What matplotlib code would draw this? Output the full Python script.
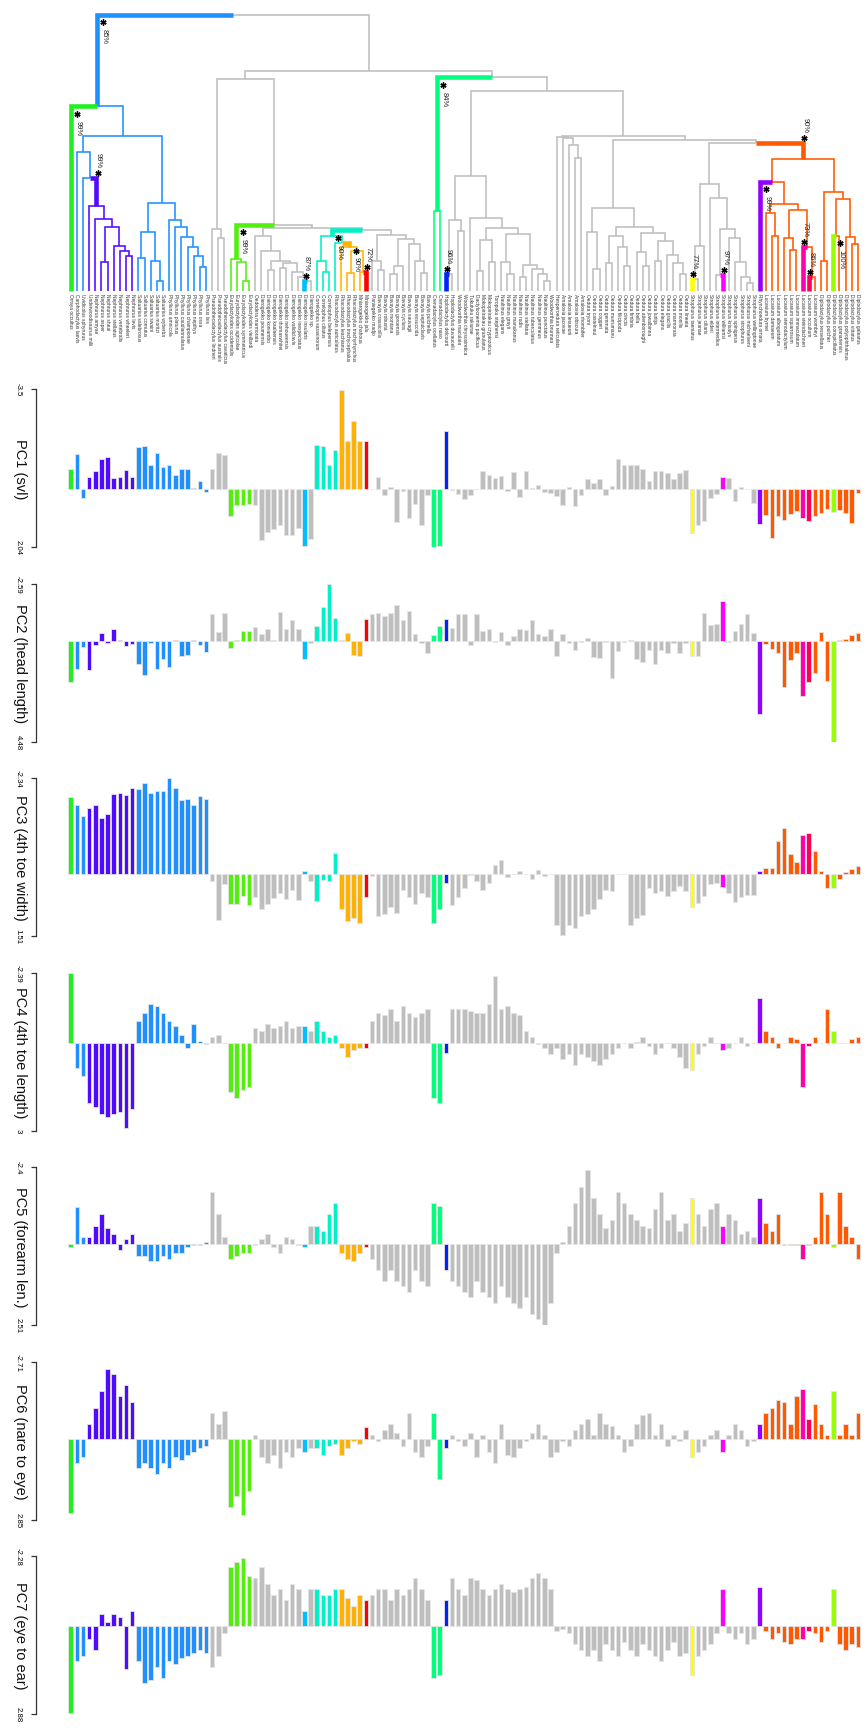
import matplotlib
matplotlib.use("Agg")
import matplotlib.pyplot as plt

plt.rcParams['font.family'] = ['Liberation Sans', 'DejaVu Sans']

# ---------------------------------------------------------------- taxa
species = [
    "Orraya occultus", "Carphodactylus laevis", "Uvidicolus sphyrurus", "Underwoodisaurus milii",
    "Nephrurus amyae", "Nephrurus asper", "Nephrurus sheai", "Nephrurus stellatus",
    "Nephrurus vertebralis", "Nephrurus wheeleri", "Nephrurus levis",
    "Saltuarius salebrosus", "Saltuarius cornutus", "Saltuarius swaini", "Saltuarius moritzi",
    "Saltuarius wyberba", "Phyllurus amnicola", "Phyllurus platurus", "Phyllurus caudiannulatus",
    "Phyllurus championae", "Phyllurus nepthys", "Phyllurus ossa", "Phyllurus isis",
    "Pseudothecadactylus lindneri", "Pseudothecadactylus australis", "Pseudothecadactylus cavaticus",
    "Eurydactylodes occidentalis", "Eurydactylodes agricolae", "Eurydactylodes symmetricus",
    "Eurydactylodes vieillardi", "Oedodera marmorata", "Dierogekko poumensis", "Dierogekko koniambo",
    "Dierogekko kaalaensis", "Dierogekko thomaswhitei", "Dierogekko nehoueensis",
    "Dierogekko validiclavis", "Dierogekko inexpectatus", "Dierogekko insularis", "Dierogekko sp.",
    "Correlophus sarasinorum", "Correlophus ciliatus", "Correlophus belepensis",
    "Rhacodactylus auriculatus", "Rhacodactylus leachianus", "Rhacodactylus trachycephalus",
    "Rhacodactylus trachyrhynchus", "Mniarogekko chahoua", "Mniarogekko jalu", "Paniegekko madjo",
    "Bavayia crassicollis", "Bavayia robusta", "Bavayia montana", "Bavayia goroensis",
    "Bavayia cyclura", "Bavayia sauvagii", "Bavayia exsuccida", "Bavayia septuiclavis",
    "Bavayia pulchella", "Crenadactylus ocellatus", "Crenadactylus naso", "Hoplodactylus delcourti",
    "Hoplodactylus duvaucelii", "Woodworthia maculata", "Woodworthia chrysosiretica",
    "Tukutuku rakiurae", "Dactylocnemis pacificus", "Mokopirirakau granulatus",
    "Mokopirirakau cryptozoicus", "Toropuku stephensi", "Naultinus elegans", "Naultinus grayii",
    "Naultinus manukanus", "Naultinus rudis", "Naultinus stellatus", "Naultinus tuberculatus",
    "Naultinus gemmeus", "Naultinus punctatus", "Woodworthia brunnea", "Hesperoedura reticulata",
    "Amalosia jacovae", "Amalosia lesueurii", "Amalosia obscura", "Amalosia rhombifer",
    "Oedura tryoni", "Oedura castelnaui", "Oedura coggeri", "Oedura gemmata", "Oedura murrumanu",
    "Oedura filicipoda", "Oedura cincta", "Oedura fimbria", "Oedura bella", "Oedura attenboroughi",
    "Oedura jowalbinna", "Oedura luritja", "Oedura elegans", "Oedura gracilis", "Oedura marmorata",
    "Oedura monilis", "Oedura lineata", "Strophurus taeniatus", "Strophurus jeanae",
    "Strophurus ciliaris", "Strophurus elderi", "Strophurus intermedius", "Strophurus williamsi",
    "Strophurus krisalys", "Strophurus spinigerus", "Strophurus strophurus", "Strophurus michaelseni",
    "Strophurus wellingtonae", "Rhynchoedura ornata", "Lucasium byrnei", "Lucasium damaeum",
    "Lucasium alboguttatum", "Lucasium stenodactylum", "Lucasium squarrosum", "Lucasium immaculatum",
    "Lucasium steindachneri", "Lucasium occultum", "Lucasium wombeyi", "Diplodactylus tessellatus",
    "Diplodactylus pulcher", "Diplodactylus conspicillatus", "Diplodactylus granariensis",
    "Diplodactylus polyophthalmus", "Diplodactylus vittatus", "Diplodactylus galeatus",
]

# ---------------------------------------------------------------- tree
# internal node = [relative age, left, right]; integers are tips (index into species)
carpho = [0.668, 0,
          [0.562,
           [0.504, 1,
            [0.409, 2,
             [0.309, 3,
              [0.261, 4,
               [0.231, [0.106, 5, 6],
                [0.164, 7, [0.146, 8, [0.126, 9, 10]]]]]]]],
           [0.318,
            [0.215, [0.118, 11, 12], [0.107, 13, [0.036, 14, 15]]],
            [0.258, 16, [0.233, 17, [0.197, 18, [0.158, 19, [0.128, 20, [0.086, 21, 22]]]]]]]]]

dierogekko = [0.200, 30,
              [0.146, 31,
               [0.108, [0.076, 32, 33],
                [0.100, [0.085, 34, 35], [0.070, 36, [0.050, 37, [0.036, 38, 39]]]]]]]
giants = [0.198, [0.110, 40, [0.068, 41, 42]],
          [0.174, 43, [0.159, 44, [0.146, [0.065, 45, 46], [0.068, 47, 48]]]]]
bavayia = [0.204, [0.110, 49, [0.075, 50, 51]],
           [0.190, [0.090, [0.060, 52, 53], 54], [0.170, 55, [0.110, 56, [0.065, 57, 58]]]]]
new_caledonia = [0.228, dierogekko, [0.219, giants, bavayia]]

left_diplo = [0.767, [0.224, 23, [0.191, 24, 25]],
              [0.240, [0.116, 26, [0.104, 27, [0.037, 28, 29]]], new_caledonia]]

new_zealand = [0.417, [0.257, [0.062, 61, 62], [0.216, 63, 64]],
               [0.263, 65,
                [0.227, [0.186, [0.073, 66, 67], [0.104, 68, 69]],
                 [0.206, [0.104, 70, [0.060, 71, 72]],
                  [0.095, [0.050, 73, 74], [0.080, 75, [0.060, 76, [0.035, 77, 78]]]]]]]]
amalosia = [0.559, 79, [0.552, 80, [0.528, 81, [0.480, 82, 83]]]]
oedura = [0.299, [0.215, 84, [0.080, 85, 86]],
          [0.230, [0.200, [0.100, 87, 88], [0.160, 89, [0.090, 90, 91]]],
           [0.210, [0.140, 92, [0.090, 93, 94]],
            [0.180, [0.110, 95, 96], [0.130, 97, [0.100, 98, [0.060, 99, 100]]]]]]]
strophurus = [0.387, [0.164, [0.043, 101, 102], 103],
              [0.335, 104, [0.224, [0.058, 105, 106],
                            [0.191, 107, [0.104, 108, [0.050, 109, [0.030, 110, 111]]]]]]]
diplodactylini = [0.478,
                  [0.396, 112,
                   [0.315, [0.281, 113, [0.198, 114, 115]],
                    [0.294, [0.192, 116, [0.150, 117, 118]], [0.159, 119, [0.051, 120, 121]]]]],
                  [0.359, [0.110, 122, 123],
                   [0.334, [0.200, 124, 125], [0.195, 126, [0.170, 127, 128]]]]]
right_diplo = [0.773, [0.291, 59, 60],
               [0.725, new_zealand,
                [0.562, amalosia, [0.548, oedura, [0.537, strophurus, diplodactylini]]]]]

tree = [1.0, carpho, [0.797, left_diplo, right_diplo]]

# painted regimes: (first tip, last tip) -> (colour, support)
regimes = {
    (0, 22): ("#1E90FF", "85%"),
    (0, 0): ("#22EE22", "99%"),
    (3, 10): ("#4F0AFF", "99%"),
    (26, 29): ("#55EE11", "99%"),
    (38, 38): ("#00BFFF", "87%"),
    (40, 48): ("#00F0C8", "90%"),
    (44, 48): ("#FFB300", "90%"),
    (48, 48): ("#FF0000", "72%"),
    (59, 60): ("#00FF7F", "84%"),
    (61, 61): ("#0022FF", "96%"),
    (101, 101): ("#FFFF00", "77%"),
    (106, 106): ("#FF00FF", "97%"),
    (112, 128): ("#FF5A00", "90%"),
    (112, 112): ("#9400FF", "99%"),
    (119, 119): ("#FF00AA", "73%"),
    (120, 120): ("#FF0055", "86%"),
    (124, 124): ("#99FF00", "100%"),
}
support_above = {(3, 10), (38, 38), (48, 48), (61, 61), (101, 101), (106, 106),
                 (119, 119), (120, 120), (112, 128)}
BASE = "#BEBEBE"

# ---------------------------------------------------------------- PC scores
pc_titles = ["PC1 (svl)", "PC2 (head length)", "PC3 (4th toe width)", "PC4 (4th toe length)",
             "PC5 (forearm len.)", "PC6 (nare to eye)", "PC7 (eye to ear)"]
pc_low = [-3.5, -2.59, -2.34, -2.39, -2.4, -2.71, -2.28]
pc_high = [2.04, 4.48, 1.51, 3, 2.51, 2.85, 2.88]

pc1 = [-0.70, -1.23, 0.33, -0.43, -0.62, -1.03, -1.11, -0.39, -0.43, -0.67, -0.41,
       -1.46, -1.49, -0.84, -1.25, -0.78, -0.84, -0.49, -0.68, -0.68, -0.04, -0.29, 0.12,
       -0.68, -1.26, -1.17, 0.97, 0.56, 0.56, 0.54,
       0.56, 1.81, 1.52, 1.42, 1.28, 1.61, 1.63, 1.38, 2.00, 1.75,
       -1.55, -1.49, -0.85, -1.37, -3.48, -1.67, -2.39, -1.69, -1.67,
       0.02, -0.41, 0.21, -0.08, 1.17, 0.06, 1.01, 0.52, 1.28, 0.20,
       2.04, 2.00, -2.04,
       0.03, 0.17, 0.35, 0.21, 0.02, -0.64, -0.49, -0.37, -0.44, 0.08, -0.58, 0.29, -0.61,
       -0.02, -0.12, 0.12, 0.14, 0.26, 0.58, -0.06, 0.61, 0.21, -0.35, -0.21, -0.35, 0.23,
       -0.09, -1.03, -0.82, -0.82, -0.82, -0.70, -0.29, -0.62, -0.62, -0.55, -0.35, -0.56, -0.66,
       1.54, 1.28, 1.14, 0.33, 0.17, -0.41, -0.37, 0.44, -0.08, 0.02, 0.50,
       1.22, 0.91, 1.73, 0.96, 1.11, 0.89, 0.79, 1.03, 1.12, 0.96, 0.85, 0.72, 0.82, 0.76,
       0.84, 1.19, 0.15]
pc2 = [1.80, 1.25, 0.25, 1.28, 0.16, -0.36, 0.06, -0.54, -0.06, 0.21, 0.10,
       1.00, 1.50, 0.09, 1.25, 0.80, 1.15, -0.06, 0.65, 0.62, -0.06, 0.16, 0.46,
       -1.21, -0.42, -1.28, 0.31, -0.04, -0.46, -0.46,
       -0.64, -0.31, -0.54, -0.04, -1.32, -0.54, -0.94, -0.54, 0.80, 0.06,
       -0.71, -1.55, -2.57, -1.03, -0.06, -0.36, 0.62, 0.65, -0.98,
       -1.21, -1.25, -1.13, -1.28, -1.65, -0.95, -1.38, -0.31, 0.09, 0.51,
       -0.27, -0.68, -1.01,
       -0.58, -1.21, -1.21, 0.18, -1.21, -0.46, -0.57, 0.02, -0.42, 0.16, -0.24, -0.57, -0.51,
       -0.95, -0.31, -0.24, -0.54, 0.65, -0.31, 0.09, 0.39, 0.02, -0.16, 0.70, 0.76, 0.02,
       1.65, 0.43, 0.02, -0.06, 0.80, 0.91, 0.39, 1.03, 0.39, 0.51, 0.09, 0.54, 0.06,
       0.65, 0.65, -1.28, -0.73, -0.76, -1.80, 0.02, -0.46, -0.80, -1.21, -0.39,
       3.23, 0.13, 0.33, 0.54, 2.02, 0.85, 0.51, 2.44, 1.80, 1.43, -0.43, 1.77, 4.48,
       -0.06, -0.09, -0.27, -0.39]
pc3 = [-1.88, -1.67, -1.41, -1.61, -1.68, -1.37, -1.46, -1.94, -1.97, -1.92, -2.10,
       -2.06, -2.21, -1.98, -2.03, -2.02, -2.34, -2.10, -1.81, -1.84, -1.68, -1.91, -1.84,
       0.16, 1.12, 0.25, 0.74, 0.74, 0.54, 0.76,
       0.55, 0.85, 0.72, 0.58, 0.46, 0.62, 0.38, 0.64, -0.07, 0.16,
       0.66, 0.14, 0.17, -0.52, 0.86, 1.14, 1.08, 1.19, 0.56,
       0.06, 1.02, 0.97, 0.80, 0.96, 0.38, 0.56, 0.74, 0.46, 0.56,
       1.20, 0.84, 0.21,
       0.76, 0.55, 0.33, 0.02, 0.17, 0.39, 0.21, -0.23, -0.35, 0.07, -0.01, -0.07, 0.01, 0.12,
       -0.09, 0.05, 0.01, 1.24, 1.49, 1.23, 1.31, 1.02, 0.97, 0.86, 0.62, 0.38, 0.42, 0.01,
       0.01, 1.23, 1.06, 1.00, 0.35, 0.46, 0.42, 0.54, 0.42, 0.28, 0.42,
       0.80, 0.70, 0.54, 0.25, 0.23, 0.31, 0.46, 0.68, 0.55, 0.51, 0.51,
       -0.07, -0.14, -0.14, -0.80, -1.12, -0.49, -0.29, -0.96, -1.00, -0.56, -0.07, 0.35,
       0.33, 0.11, -0.05, -0.13, -0.19]
pc4 = [-2.39, 0.87, 1.13, 2.07, 2.19, 2.45, 2.53, 2.45, 2.38, 2.90, 2.26,
       -0.75, -1.02, -1.32, -1.24, -1.02, -0.75, -0.57, -0.26, 0.19, -0.64, -0.05, 0.05,
       -0.19, -0.26, 0.03, 1.70, 1.89, 1.62, 1.51,
       -0.49, -0.38, -0.64, -0.49, -0.57, -0.75, -0.49, -0.57, -0.57, -0.38,
       -0.75, -0.38, -0.19, -0.26, 0.19, 0.49, 0.26, 0.19, 0.19,
       -0.75, -1.02, -0.94, -1.13, -0.75, -1.24, -1.02, -0.87, -1.02, -1.13,
       1.89, 2.07, 0.35,
       -1.13, -1.13, -1.13, -1.09, -1.02, -1.02, -1.32, -2.26, -1.13, -1.24, -1.02, -0.94,
       -0.38, -0.19, 0.05, 0.19, 0.38,
       0.19, 0.57, 0.38, 0.75, 0.38, 0.49, 0.64, 0.75, 0.57, 0.38, 0.19, 0.03, 0.19, -0.03,
       -0.19, 0.11, 0.38, 0.19, 0.03, 0.19, 0.49, 0.87,
       0.94, 0.38, 0.11, -0.19, 0.03, 0.26, 0.19, 0.02, -0.19, 0.11, 0.03,
       -1.51, -0.38, -0.19, 0.19, 0.02, -0.19, -0.11, 1.51, 0.11, -0.19, 0.02, -1.13, -0.38,
       0.02, 0.02, -0.11, -0.19]
pc5 = [0.10, -1.17, -0.24, -0.24, -0.58, -0.93, -0.51, -0.31, 0.17, -0.17, -0.31,
       0.38, 0.38, 0.51, 0.51, 0.38, 0.45, 0.27, 0.27, 0.10, 0.03, 0.03, -0.07,
       -1.61, -0.93, -0.24, 0.45, 0.38, 0.27, 0.27,
       0.03, -0.17, -0.31, 0.10, 0.27, -0.24, -0.17, 0.03, 0.10, -0.58,
       -0.58, -0.41, -0.93, -1.27, 0.27, 0.45, 0.51, 0.27, 0.10,
       0.45, 0.79, 1.13, 0.79, 1.13, 1.30, 1.47, 0.79, 1.13, 1.30,
       -1.27, -1.20, 0.79,
       1.13, 1.30, 1.47, 1.65, 1.13, 1.47, 1.65, 1.82, 1.30, 1.65, 1.82, 1.99, 1.65, 2.16,
       2.33, 2.50, 1.82,
       0.27, -0.07, -0.58, -1.27, -1.78, -2.30, -1.44, -0.93, -0.51, -0.75, -1.61, -1.27,
       -0.93, -0.75, -0.58, -0.51, -1.10, -1.61, -0.75, -0.93, -0.41, -0.65,
       -1.44, -0.93, -0.58, -1.10, -1.27, -0.58, -0.93, -0.75, -0.31, -0.41, -0.24,
       -1.44, -0.65, -0.41, -0.93, 0.03, 0.03, 0.03, 0.45, 0.03, -0.24, -1.61, -0.93, 0.10,
       -1.61, -0.58, -0.24, 0.45]
pc6 = [2.61, 0.86, 0.66, -0.51, -1.09, -1.67, -2.45, -2.26, -1.48, -1.87, -1.28,
       1.05, 0.86, 1.05, 1.24, 0.86, 1.05, 0.66, 0.74, 0.58, 0.47, 0.35, 0.27,
       -0.89, -0.51, -0.97, 2.41, 2.02, 2.68, 1.83,
       -0.12, 0.66, 0.86, 0.58, 1.05, 0.47, 0.66, 0.35, 0.47, 0.35,
       0.35, 0.58, 0.27, 0.19, 0.58, 0.35, 0.08, 0.19, -0.39,
       -0.12, 0.08, -0.31, -0.51, -0.19, 0.27, -0.89, 0.47, 0.66, 0.27,
       -0.89, 1.44, 0.35,
       -0.12, 0.08, 0.27, -0.19, 0.66, -0.12, 0.47, 0.86, -0.51, 0.58, 0.66, 0.35, 0.08,
       -0.19, -0.51, -0.12, 0.66, 0.47, 0.08, 0.27, -0.31, -0.51, -0.70, -0.12, -0.89, -0.51,
       -0.43, -0.12, 0.47, 0.27, -0.51, -0.82, -0.89, -0.12, -0.51, 0.27, -0.12, 0.08, -0.31,
       0.66, 0.47, 0.27, -0.12, -0.31, 0.47, -0.12, -0.51, -0.31, 0.27, 0.08,
       -0.51, -0.89, -1.09, -1.36, -1.28, -0.51, -1.48, -1.75, -0.70, -1.20, -0.51, -0.12,
       -1.67, -0.12, -0.51, -0.12, -0.89]
pc7 = [2.85, 1.16, 0.97, 0.43, 0.79, -0.40, -0.11, -0.40, -0.29, 1.41, -0.47,
       1.16, 1.88, 1.77, 1.34, 1.70, 1.16, 1.26, 1.05, 0.97, 0.90, 0.79, 0.90,
       1.34, 0.97, 0.25, -1.91, -2.09, -2.20, -1.62,
       -1.55, -1.91, -1.37, -1.01, -1.19, -0.83, -1.37, -1.19, -0.47, -1.19,
       -1.19, -1.01, -1.01, -1.19, -1.19, -0.90, -0.65, -1.01, -0.83,
       -1.01, -1.19, -1.19, -0.83, -1.19, -1.01, -1.19, -1.55, -1.19, -0.83,
       1.70, 1.62, -0.83,
       -1.55, -1.19, -1.01, -1.55, -1.48, -1.19, -1.01, -1.19, -1.37, -1.19, -1.12, -1.19,
       -1.26, -1.55, -1.73, -1.55, -1.19,
       0.18, 0.11, 0.25, 0.61, 0.79, 0.97, 0.79, 1.16, 0.61, 0.79, 0.97, 0.54, 0.79, 0.97,
       0.61, 0.79, 0.97, 1.16, 0.79, 0.54, 0.97, 0.90,
       1.62, 0.97, 0.79, 0.61, 0.25, -1.19, 0.25, 0.43, 0.25, 0.61, 0.43,
       -1.26, 0.18, 0.43, 0.25, 0.54, 0.61, 0.43, 0.43, 0.18, 0.25, 0.54, 0.18, -1.19, 0.61,
       0.79, 0.61, 0.68]
pc_scores = [pc1, pc2, pc3, pc4, pc5, pc6, pc7]

# ---------------------------------------------------------------- layout helpers
W, H = 866, 1733
fig = plt.figure(figsize=(W / 100, H / 100), dpi=100)
TIP0_PX, TIP_STEP_PX = 70.7, 6.15


def add_axes_px(x0, y0, x1, y1):
    return fig.add_axes([x0 / W, 1 - y1 / H, (x1 - x0) / W, (y1 - y0) / H])


def tip_at(px):
    return (px - TIP0_PX) / TIP_STEP_PX


# ---------------------------------------------------------------- tree geometry
def build(node):
    if isinstance(node, int):
        return {"lo": node, "hi": node, "x": float(node), "age": 0.0, "kids": []}
    kids = [build(k) for k in node[1:]]
    return {"lo": kids[0]["lo"], "hi": kids[-1]["hi"],
            "x": (kids[0]["x"] + kids[-1]["x"]) / 2, "age": node[0], "kids": kids}


edges = []
tip_colour = {}


def paint(n, colour, parent=None):
    key = (n["lo"], n["hi"])
    shift = key in regimes
    c = regimes[key][0] if shift else colour
    if parent is not None:
        edges.append((n, parent, c, shift, key))
    if not n["kids"]:
        tip_colour[n["lo"]] = c
    for k in n["kids"]:
        paint(k, c, n)


root = build(tree)
paint(root, BASE)
n_tips = len(species)
bar_colours = [tip_colour[i] for i in range(n_tips)]

# ---------------------------------------------------------------- tree panel
TIP_Y, ROOT_Y = 292.0, 15.7
span = TIP_Y - ROOT_Y


def age_at(py):
    return (TIP_Y - py) / span


axt = add_axes_px(36, 0, 866, 345)
axt.set_xlim(tip_at(36), tip_at(866))
axt.set_ylim(age_at(345), age_at(0))
axt.axis("off")

for n, p, c, shift, key in sorted(edges, key=lambda e: (e[2] != BASE, e[3])):
    axt.plot([n["x"], n["x"], p["x"]], [n["age"], p["age"], p["age"]],
             color=c, lw=3.3 if shift else 1.15, solid_joinstyle="miter",
             solid_capstyle="butt", zorder=3 if shift else (2 if c != BASE else 1))

for n, p, c, shift, key in edges:
    if not shift:
        continue
    if key in support_above:
        sx, sy = n["x"] + 0.25, p["age"] + 0.018
        axt.plot(sx, sy, marker=(6, 2, 0), ms=4.4, mew=1.0, color="k", zorder=5)
        axt.text(sx + 0.1, sy + 0.022, regimes[key][1], rotation=-90, ha="center", va="bottom",
                 fontsize=5.4, color="#222222", zorder=5)
    else:
        sx, sy = n["x"] + 1.1, p["age"] - 0.028
        axt.plot(sx, sy, marker=(6, 2, 0), ms=4.4, mew=1.0, color="k", zorder=5)
        axt.text(sx + 0.1, sy - 0.02, regimes[key][1], rotation=-90, ha="center", va="top",
                 fontsize=5.4, color="#222222", zorder=5)

for i, name in enumerate(species):
    axt.text(i, age_at(293.5), name, rotation=-90, ha="center", va="top",
             fontsize=3.5, color="#333333")

# ---------------------------------------------------------------- bar panels
for k, (title, lo, hi, vals) in enumerate(zip(pc_titles, pc_low, pc_high, pc_scores)):
    y0 = 390 + 194.5 * k
    ax = add_axes_px(36, y0, 866, y0 + 158)
    ax.bar(range(n_tips), vals, width=0.74, color=bar_colours, edgecolor="#E4E4E4",
           linewidth=0.6)
    ax.set_xlim(tip_at(36), tip_at(866))
    ax.set_ylim(hi, lo)
    for s in ("top", "right", "bottom"):
        ax.spines[s].set_visible(False)
    ax.spines["left"].set_bounds(lo, hi)
    ax.spines["left"].set_color("#333333")
    ax.spines["left"].set_linewidth(0.9)
    ax.set_xticks([])
    ax.set_yticks([lo, hi])
    ax.set_yticklabels([f"{lo:g}", f"{hi:g}"], rotation=-90, fontsize=5.6, va="center")
    ax.tick_params(axis="y", length=3.8, width=0.9, color="#333333", pad=6.5)
    fig.text(20 / W, 1 - (y0 + 79) / H, title, rotation=-90, ha="center", va="center",
             fontsize=10.5, color="#111111")

fig.savefig("out.png", dpi=100)
